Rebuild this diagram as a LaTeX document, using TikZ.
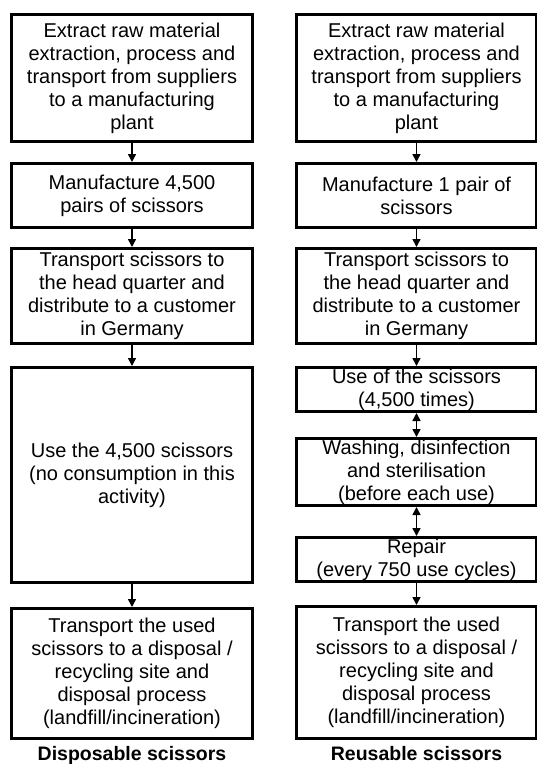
\documentclass[tikz,border=0pt]{standalone}
\usepackage{fontspec}
\setmainfont{Liberation Sans}
\usetikzlibrary{positioning, arrows.meta}

\begin{document}
\begin{tikzpicture}[
    x=1pt, y=1pt,
    node distance=19pt,
    process/.style={rectangle, draw, line width=3pt, minimum width=241pt, align=center, inner sep=1pt, font=\fontsize{20}{23}\selectfont},
    caption/.style={font=\fontsize{19.5}{22}\selectfont\bfseries},
    arrow/.style={-{Triangle[length=8pt,width=8pt]}, line width=1.5pt},
    dblarrow/.style={{Triangle[length=8pt,width=8pt]}-{Triangle[length=8pt,width=8pt]}, line width=1.5pt}
]
    \useasboundingbox (0,0) rectangle (537,-764);

    % Disposable scissors
    \node[process, minimum height=127pt, anchor=north west] (d_extract) at (10,-13) {Extract raw material\\extraction, process and\\transport from suppliers\\to a manufacturing\\plant};
    \node[process, minimum height=64pt, below=19pt of d_extract] (d_make) {Manufacture 4,500\\pairs of scissors};
    \node[process, minimum height=95pt, below=18pt of d_make] (d_deliver) {Transport scissors to\\the head quarter and\\distribute to a customer\\in Germany};
    \node[process, minimum height=215pt, below=21pt of d_deliver] (d_use) {Use the 4,500 scissors\\(no consumption in this\\activity)};
    \node[process, minimum height=130pt, below=23pt of d_use] (d_dispose) {Transport the used\\scissors to a disposal /\\recycling site and\\disposal process\\(landfill/incineration)};
    \node[caption, below=3pt of d_dispose] (d_title) {Disposable scissors};

    % Reusable scissors
    \node[process, minimum height=127pt, minimum width=240pt, right=41pt of d_extract] (r_extract) {Extract raw material\\extraction, process and\\transport from suppliers\\to a manufacturing\\plant};
    \node[process, minimum height=64pt, minimum width=240pt, below=19pt of r_extract] (r_make) {Manufacture 1 pair of\\scissors};
    \node[process, minimum height=95pt, minimum width=240pt, below=18pt of r_make] (r_deliver) {Transport scissors to\\the head quarter and\\distribute to a customer\\in Germany};
    \node[process, minimum height=44pt, minimum width=240pt, below=21pt of r_deliver] (r_use) {Use of the scissors\\(4,500 times)};
    \node[process, minimum height=67pt, minimum width=240pt, below=24pt of r_use] (r_wash) {Washing, disinfection\\and sterilisation\\(before each use)};
    \node[process, minimum height=44pt, minimum width=240pt, below=29pt of r_wash] (r_repair) {Repair\\(every 750 use cycles)};
    \node[process, minimum height=132pt, minimum width=240pt, below=22pt of r_repair] (r_dispose) {Transport the used\\scissors to a disposal /\\recycling site and\\disposal process\\(landfill/incineration)};
    \node[caption, below=3pt of r_dispose] (r_title) {Reusable scissors};

    % Arrows
    \draw[arrow] (d_extract) -- (d_make);
    \draw[arrow] (d_make) -- (d_deliver);
    \draw[arrow] (d_deliver) -- (d_use);
    \draw[arrow] (d_use) -- (d_dispose);

    \draw[arrow] (r_extract) -- (r_make);
    \draw[arrow] (r_make) -- (r_deliver);
    \draw[arrow] (r_deliver) -- (r_use);
    \draw[dblarrow] (r_use) -- (r_wash);
    \draw[dblarrow] (r_wash) -- (r_repair);
    \draw[arrow] (r_repair) -- (r_dispose);
\end{tikzpicture}
\end{document}
